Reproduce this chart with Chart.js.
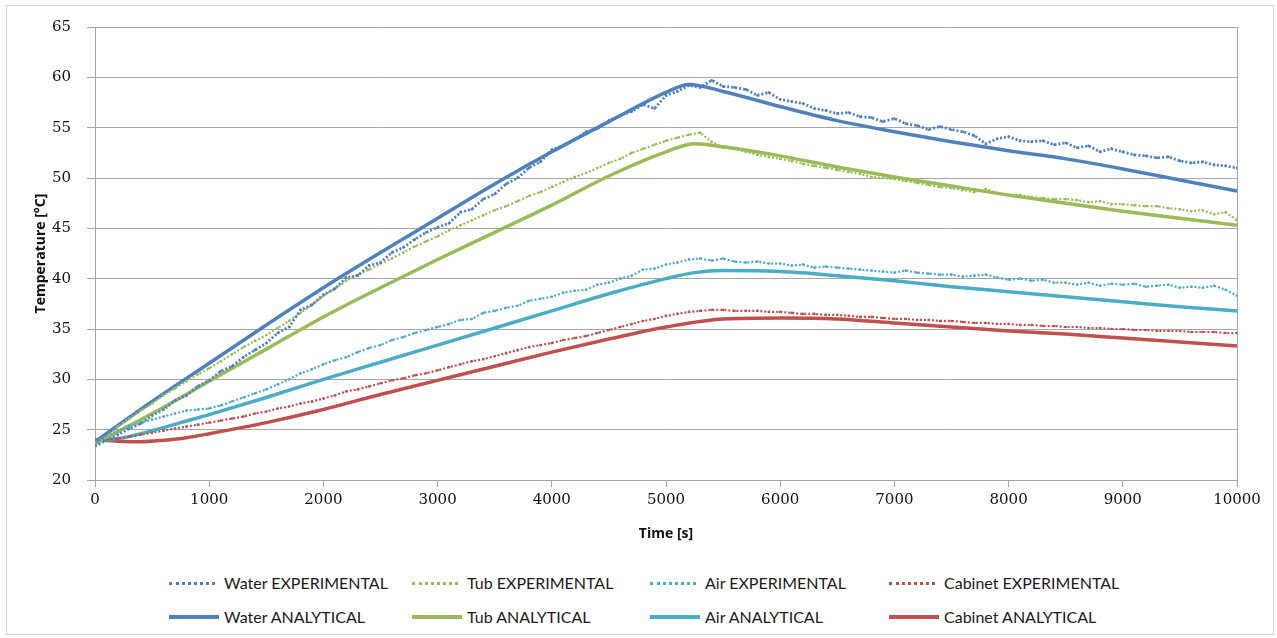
<!DOCTYPE html>
<html>
<head>
<meta charset="utf-8">
<script src="https://cdn.jsdelivr.net/npm/chart.js@4/dist/chart.umd.min.js"></script>
<style>
    body { margin: 0; background: #fff; }
    #frame { position: absolute; left: 6px; top: 5px; width: 1266px; height: 628px; border: 1px solid #d4d4d4; }
    #chartBox { position: absolute; left: 0; top: 0; width: 1277px; height: 560px; }
    .leg { position: absolute; font-family: Lato, "Open Sans", sans-serif; font-size: 16px; color: #1a1a1a; white-space: nowrap; }
    .leg .s { position: absolute; top: 9px; width: 46px; }
    .leg .t { position: absolute; left: 55px; top: 0; }
</style>
</head>
<body>
<div id="frame"></div>
<div id="chartBox"><canvas id="chartTemp"></canvas></div>
<div id="legend"></div>
<script>
// ===== Temperature vs time: experimental vs analytical =====

// time axis of the measured series [s]
const expTime = [0, 100, 200, 300, 400, 500, 600, 700, 800, 900,
    1000, 1100, 1200, 1300, 1400, 1500, 1600, 1700, 1800, 1900,
    2000, 2100, 2200, 2300, 2400, 2500, 2600, 2700, 2800, 2900,
    3000, 3100, 3200, 3300, 3400, 3500, 3600, 3700, 3800, 3900,
    4000, 4100, 4200, 4300, 4400, 4500, 4600, 4700, 4800, 4900,
    5000, 5100, 5200, 5300, 5400, 5500, 5600, 5700, 5800, 5900,
    6000, 6100, 6200, 6300, 6400, 6500, 6600, 6700, 6800, 6900,
    7000, 7100, 7200, 7300, 7400, 7500, 7600, 7700, 7800, 7900,
    8000, 8100, 8200, 8300, 8400, 8500, 8600, 8700, 8800, 8900,
    9000, 9100, 9200, 9300, 9400, 9500, 9600, 9700, 9800, 9900, 10000];

const waterExp = [23.4, 23.9, 24.5, 25.1, 25.6, 26.4, 27.0, 27.9, 28.4, 29.3,
    29.9, 30.8, 31.3, 32.2, 32.9, 33.6, 34.6, 35.2, 36.9, 37.4,
    38.4, 39.0, 40.1, 40.3, 41.3, 41.6, 42.6, 43.1, 43.9, 44.6,
    45.1, 45.5, 46.6, 46.9, 47.9, 48.4, 49.4, 50.0, 51.0, 51.6,
    52.8, 53.2, 53.8, 54.6, 54.9, 55.7, 56.2, 56.6, 57.3, 56.9,
    58.2, 58.6, 59.2, 59.0, 59.7, 59.1, 59.0, 58.8, 58.2, 58.5,
    57.8, 57.6, 57.4, 56.9, 56.7, 56.4, 56.5, 56.1, 56.0, 55.6,
    55.9, 55.4, 55.2, 54.8, 55.1, 54.8, 54.6, 54.2, 53.4, 53.9,
    54.1, 53.7, 53.6, 53.7, 53.3, 53.5, 53.0, 53.2, 52.6, 52.9,
    52.6, 52.3, 52.2, 52.0, 52.1, 51.7, 51.5, 51.6, 51.3, 51.2, 51.0];

const tubExp = [23.3, 24.2, 25.3, 26.1, 26.9, 27.6, 28.4, 29.1, 29.8, 30.5,
    31.1, 31.8, 32.5, 33.2, 33.8, 34.4, 35.1, 35.8, 36.6, 37.4,
    38.3, 39.0, 39.8, 40.4, 40.9, 41.5, 42.0, 42.6, 43.2, 43.7,
    44.2, 44.8, 45.3, 45.8, 46.3, 46.8, 47.2, 47.7, 48.2, 48.6,
    49.1, 49.6, 50.1, 50.5, 51.0, 51.5, 51.9, 52.5, 52.9, 53.3,
    53.7, 54.0, 54.3, 54.5, 53.6, 53.0, 52.9, 52.6, 52.3, 52.1,
    51.9, 51.7, 51.4, 51.2, 51.0, 50.8, 50.6, 50.4, 50.1, 50.0,
    49.9, 49.7, 49.5, 49.3, 49.1, 49.0, 48.8, 48.6, 48.9, 48.5,
    48.3, 48.3, 48.1, 48.0, 47.9, 47.9, 47.8, 47.6, 47.7, 47.4,
    47.4, 47.3, 47.2, 47.2, 47.0, 46.9, 46.7, 46.8, 46.4, 46.6, 45.8];

const airExp = [23.9, 24.3, 24.9, 25.4, 25.7, 26.0, 26.3, 26.6, 26.9, 27.0,
    27.1, 27.4, 27.8, 28.2, 28.6, 29.0, 29.5, 30.0, 30.6, 31.0,
    31.5, 31.9, 32.2, 32.7, 33.1, 33.4, 33.9, 34.2, 34.6, 34.9,
    35.2, 35.5, 35.9, 36.0, 36.6, 36.8, 37.1, 37.3, 37.8, 38.0,
    38.2, 38.6, 38.8, 38.9, 39.4, 39.6, 40.0, 40.3, 40.9, 41.0,
    41.4, 41.6, 41.9, 42.0, 41.8, 42.0, 41.7, 41.6, 41.7, 41.5,
    41.5, 41.3, 41.4, 41.1, 41.2, 41.1, 41.0, 40.9, 40.8, 40.7,
    40.6, 40.8, 40.6, 40.5, 40.4, 40.4, 40.2, 40.3, 40.4, 40.1,
    39.9, 40.0, 39.8, 39.9, 39.6, 39.6, 39.4, 39.6, 39.3, 39.5,
    39.4, 39.5, 39.2, 39.3, 39.4, 39.1, 39.2, 39.1, 39.3, 38.9, 38.3];

const cabinetExp = [24.0, 24.0, 24.1, 24.3, 24.5, 24.7, 24.9, 25.1, 25.3, 25.5,
    25.7, 25.9, 26.1, 26.3, 26.6, 26.8, 27.1, 27.3, 27.6, 27.8,
    28.1, 28.4, 28.8, 29.0, 29.3, 29.6, 29.9, 30.1, 30.4, 30.6,
    30.9, 31.2, 31.5, 31.8, 32.0, 32.3, 32.6, 32.9, 33.2, 33.4,
    33.6, 33.9, 34.1, 34.3, 34.6, 34.9, 35.2, 35.5, 35.8, 36.0,
    36.3, 36.5, 36.7, 36.8, 36.9, 36.9, 36.8, 36.8, 36.8, 36.7,
    36.7, 36.6, 36.5, 36.5, 36.4, 36.4, 36.3, 36.2, 36.2, 36.1,
    36.0, 36.0, 35.9, 35.9, 35.8, 35.8, 35.7, 35.6, 35.6, 35.5,
    35.5, 35.4, 35.4, 35.3, 35.3, 35.2, 35.2, 35.1, 35.1, 35.0,
    35.0, 34.9, 34.9, 34.8, 34.8, 34.8, 34.7, 34.7, 34.7, 34.6, 34.6];

// analytical model, sampled times [s]
const waterAnTime = [0, 500, 1000, 1500, 2000, 2500, 3000, 3500, 4000, 4500, 5000, 5200,
    5500, 6000, 6500, 7000, 7500, 8000, 8500, 9000, 9500, 10000];
const waterAn = [23.8, 27.8, 31.6, 35.4, 39.1, 42.6, 46.0, 49.4, 52.6, 55.6, 58.5, 59.3,
    58.6, 57.1, 55.7, 54.6, 53.6, 52.7, 51.9, 50.9, 49.8, 48.7];

const tubAnTime = [0, 500, 1000, 1500, 2000, 2500, 3000, 3500, 4000, 4500, 5000, 5250,
    5500, 6000, 6500, 7000, 7500, 8000, 8500, 9000, 9500, 10000];
const tubAn = [23.6, 26.6, 29.8, 33.0, 36.2, 39.1, 41.9, 44.6, 47.3, 50.2, 52.6, 53.4,
    53.1, 52.2, 51.1, 50.1, 49.2, 48.3, 47.5, 46.7, 46.0, 45.3];

const airAnTime = [0, 250, 500, 750, 1000, 1500, 2000, 2500, 3000, 3500, 4000, 4500, 5000, 5250,
    5500, 6000, 6500, 7000, 7500, 8000, 8500, 9000, 9500, 10000];
const airAn = [23.9, 24.2, 24.9, 25.7, 26.5, 28.2, 30.0, 31.7, 33.4, 35.1, 36.8, 38.5, 40.0, 40.6,
    40.8, 40.7, 40.3, 39.8, 39.2, 38.7, 38.2, 37.7, 37.2, 36.8];

const cabinetAnTime = [0, 200, 400, 600, 800, 1000, 1500, 2000, 2500, 3000, 3500, 4000, 4500, 5000,
    5500, 6000, 6500, 7000, 7500, 8000, 8500, 9000, 9500, 10000];
const cabinetAn = [24.0, 23.85, 23.8, 23.95, 24.2, 24.6, 25.7, 27.0, 28.5, 29.9, 31.3, 32.7, 34.0, 35.2,
    36.0, 36.1, 36.0, 35.6, 35.2, 34.8, 34.5, 34.1, 33.7, 33.3];

const seriesNames = ['Water', 'Tub', 'Air', 'Cabinet'];
const seriesColors = ['#4F81BD', '#9BBB59', '#4BACC6', '#C0504D'];
const yTicks = [20, 25, 30, 35, 40, 45, 50, 55, 60, 65];

function pts(xs, ys) {
    return xs.map((x, i) => ({ x: x, y: ys[i] }));
}

const expSets = [waterExp, tubExp, airExp, cabinetExp];
const anSets = [[waterAnTime, waterAn], [tubAnTime, tubAn], [airAnTime, airAn], [cabinetAnTime, cabinetAn]];

const datasets = [];
seriesNames.forEach((n, i) => {
    datasets.push({
        label: n + ' EXPERIMENTAL',
        data: pts(expTime, expSets[i]),
        borderColor: seriesColors[i],
        backgroundColor: seriesColors[i],
        borderWidth: i === 0 ? 2.8 : 2.2,
        borderDash: [2, 2],
        pointRadius: 1.3,
        pointBorderWidth: 0,
        tension: 0,
        order: 1
    });
});
seriesNames.forEach((n, i) => {
    datasets.push({
        label: n + ' ANALYTICAL',
        data: pts(anSets[i][0], anSets[i][1]),
        borderColor: seriesColors[i],
        borderWidth: 3.5,
        pointRadius: 0,
        cubicInterpolationMode: 'monotone',
        order: 2
    });
});

// right-hand border of the plot area
const plotBorder = {
    id: 'plotBorder',
    afterDraw(chart) {
        const a = chart.chartArea, ctx = chart.ctx;
        ctx.save();
        ctx.strokeStyle = '#a6a6a6';
        ctx.lineWidth = 1;
        ctx.beginPath();
        ctx.moveTo(Math.round(a.right) + 0.5, a.top);
        ctx.lineTo(Math.round(a.right) + 0.5, a.bottom);
        ctx.stroke();
        ctx.restore();
    }
};

const tickFont = { family: '"DejaVu Serif", serif', size: 15 };
const titleFont = { family: '"Open Sans", sans-serif', size: 14, weight: 'bold' };

new Chart(document.getElementById('chartTemp'), {
    type: 'line',
    data: { datasets: datasets },
    options: {
        responsive: true,
        maintainAspectRatio: false,
        animation: false,
        layout: { padding: { left: 0, top: 27, right: 40, bottom: 0 } },
        plugins: { legend: { display: false }, tooltip: { enabled: false } },
        scales: {
            x: {
                type: 'linear',
                min: 0, max: 10000,
                afterFit: s => { s.height = 80; },
                ticks: { stepSize: 1000, color: '#111', font: tickFont, padding: 4, maxRotation: 0,
                         callback: v => String(v) },
                grid: { drawOnChartArea: false, drawTicks: true, tickLength: 7, color: '#a6a6a6' },
                border: { color: '#a6a6a6' },
                title: { display: true, text: 'Time [s]', color: '#111', font: titleFont, padding: { top: 0, bottom: 18 } }
            },
            y: {
                min: 20, max: 65,
                afterFit: s => { s.width = 95; },
                afterBuildTicks: s => { s.ticks = yTicks.map(v => ({ value: v })); },
                ticks: { color: '#111', font: tickFont, padding: 16 },
                grid: { color: '#a6a6a6', tickLength: 8 },
                border: { color: '#a6a6a6' },
                title: { display: true, text: 'Temperature [°C]', color: '#111', font: titleFont, padding: { top: 33, bottom: 0 } }
            }
        }
    },
    plugins: [plotBorder]
});

// legend, two rows of four like the original sheet
const legCols = [169, 412, 650, 889];
const legRows = [573, 607];
const legHtml = [];
seriesNames.forEach((n, i) => {
    legHtml.push(`<div class="leg" style="left:${legCols[i]}px;top:${legRows[0]}px">
        <div class="s" style="border-top:3px dotted ${seriesColors[i]}"></div>
        <div class="t">${n} EXPERIMENTAL</div></div>`);
    legHtml.push(`<div class="leg" style="left:${legCols[i]}px;top:${legRows[1]}px">
        <div class="s" style="height:4px;top:8px;width:50px;background:${seriesColors[i]}"></div>
        <div class="t">${n} ANALYTICAL</div></div>`);
});
document.getElementById('legend').innerHTML = legHtml.join('');
</script>
</body>
</html>
